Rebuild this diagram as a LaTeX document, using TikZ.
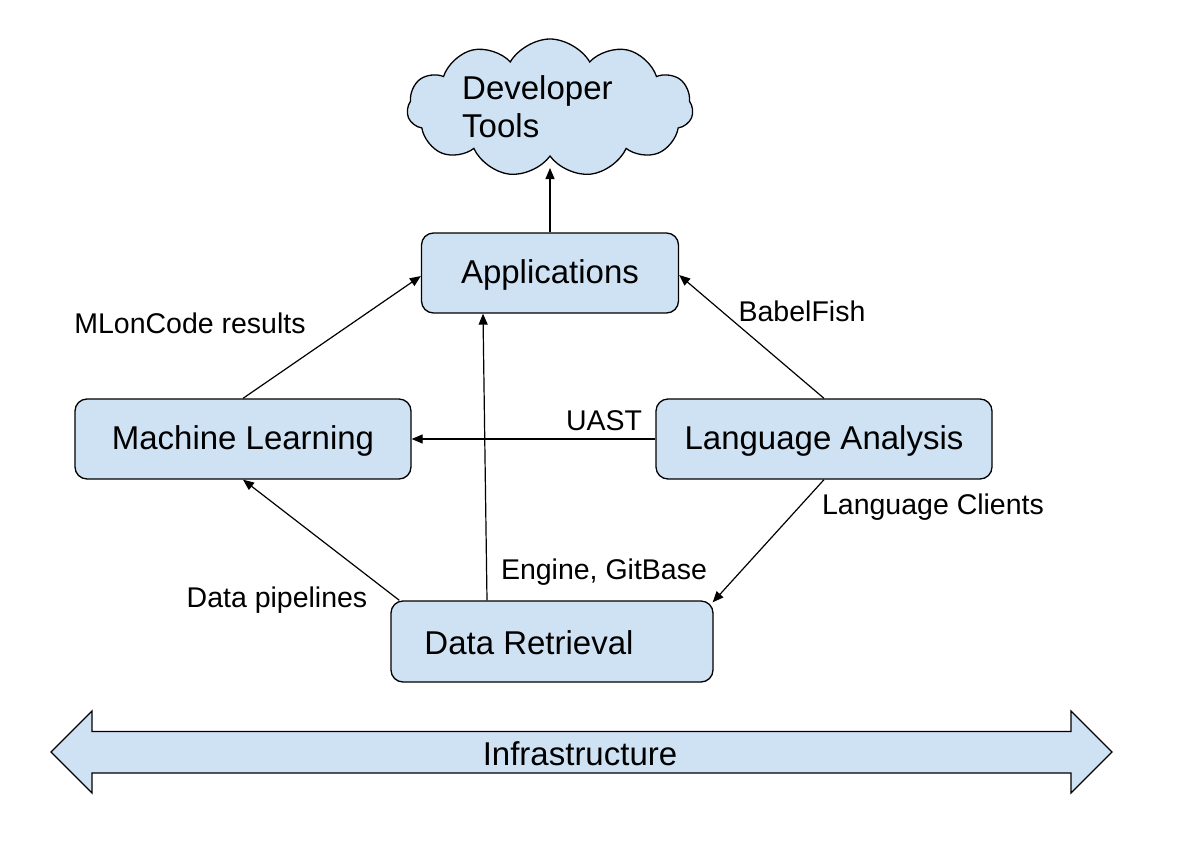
\documentclass[tikz,border=0pt]{standalone}
\usepackage{fontspec}
\setmainfont{Liberation Sans}
\usetikzlibrary{shapes.symbols,arrows.meta}
\definecolor{boxblue}{HTML}{CFE2F3}
\begin{document}
\begin{tikzpicture}[x=1pt,y=-1pt,
  box/.style={draw=black,line width=1.3pt,fill=boxblue,rounded corners=12pt,inner sep=0pt,font=\fontsize{33}{38}\selectfont},
  big/.style={font=\fontsize{33}{38}\selectfont,inner sep=0pt},
  lbl/.style={font=\fontsize{28.5}{32}\selectfont,inner sep=0pt},
  conn/.style={line width=1.2pt,-{Triangle[length=11pt,width=9pt]}}]
\useasboundingbox (0,0) rectangle (1204,846);
% cloud
\node[cloud,cloud puffs=11,cloud puff arc=120,cloud ignores aspect,draw=black,line width=1.3pt,fill=boxblue,
      minimum width=286pt,minimum height=138pt,inner sep=0pt] (dev) at (550,108) {};
\node[big,align=left,anchor=west] (devtext) at (462,107) {Developer\\Tools};
% boxes
\node[box,minimum width=257pt,minimum height=80pt] (apps) at (550,273) {};
\node[big] (appstext) at (550,275) {Applications};
\node[box,minimum width=336pt,minimum height=80pt] (ml) at (243,439) {};
\node[big] (mltext) at (243,441) {Machine Learning};
\node[box,minimum width=336pt,minimum height=80pt] (la) at (824,439) {};
\node[big] (latext) at (824,441) {Language Analysis};
\node[box,minimum width=322pt,minimum height=81pt] (dr) at (552,641.5) {};
\node[big] (drtext) at (529,643) {Data Retrieval};
% infrastructure
\draw[line width=1.3pt,fill=boxblue] (51,752) -- (92,711) -- (92,731.5) -- (1071,731.5) -- (1071,711) -- (1112,752) -- (1071,793) -- (1071,773) -- (92,773) -- (92,793) -- cycle;
\node[big] (infra) at (580,754) {Infrastructure};
% connectors
\draw[conn] (apps.north) -- (550,168);
\draw[conn] (ml.north) -- ([yshift=-3pt]apps.west);
\draw[conn] (la.north) -- ([yshift=-2pt]apps.east);
\draw[conn] ([xshift=-65pt]dr.north) -- ([xshift=-67pt]apps.south);
\draw[conn] (la.west) -- (ml.east);
\draw[conn] ([xshift=9pt]dr.north west) -- (ml.south);
\draw[conn] (la.south) -- ([xshift=-1pt,yshift=-2pt]dr.north east);
% labels
\node[lbl] (l1) at (190,323) {MLonCode results};
\node[lbl] (l2) at (802,311) {BabelFish};
\node[lbl] (l3) at (604,421) {UAST};
\node[lbl] (l4) at (933,507) {Language Clients};
\node[lbl] (l5) at (604,572) {Engine, GitBase};
\node[lbl] (l6) at (277,600) {Data pipelines};
\end{tikzpicture}
\end{document}
